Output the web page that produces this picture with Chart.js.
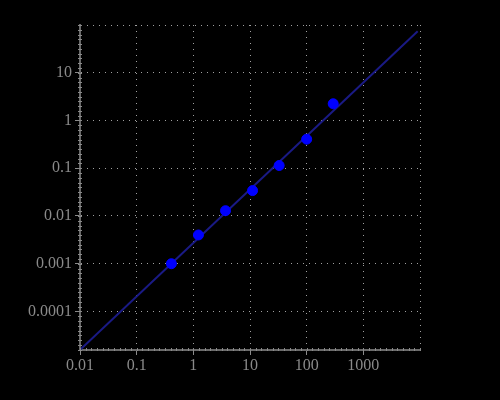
<!DOCTYPE html>
<html>
<head>
<meta charset="utf-8">
<script src="https://cdn.jsdelivr.net/npm/chart.js@4/dist/chart.umd.min.js"></script>
<style>
html,body{margin:0;padding:0;background:#000;}
#wrap{width:500px;height:400px;}
</style>
</head>
<body>
<div id="wrap"><canvas id="c" width="500" height="400"></canvas></div>
<script>
// Data
const concentrations = [0.41, 1.23, 3.7, 11.1, 32.7, 100, 294];
const responses = [0.001, 0.0040, 0.0129, 0.034, 0.114, 0.406, 2.24];
// Fitted line endpoints
const fitX = [0.01, 9100];
const fitY = [0.0000157, 74];
// Axis ranges and labelled ticks
const xRange = [0.01, 10000];
const yRange = [0.0000156, 100];
const xTickLabels = [0.01, 0.1, 1, 10, 100, 1000];
const yTickLabels = [0.0001, 0.001, 0.01, 0.1, 1, 10];

const gridColor = '#a0a0a0';
const textColor = '#8a8a8a';

const bgPlugin = {
  id: 'bg',
  beforeDraw(chart) {
    const ctx = chart.ctx;
    ctx.save();
    ctx.fillStyle = '#000';
    ctx.fillRect(0, 0, chart.width, chart.height);
    ctx.restore();
  }
};

// Small evenly spaced ruler marks along the axes (every 1/10 decade)
const rulerPlugin = {
  id: 'ruler',
  afterDraw(chart) {
    const ctx = chart.ctx;
    const a = chart.chartArea;
    const xs = chart.scales.x, ys = chart.scales.y;
    ctx.save();
    ctx.strokeStyle = '#8a8a8a';
    ctx.lineWidth = 1;
    ctx.beginPath();
    const lx0 = Math.log10(xs.min), lx1 = Math.log10(xs.max);
    for (let k = Math.ceil(lx0 * 10); k <= Math.floor(lx1 * 10); k++) {
      const px = Math.round(xs.getPixelForValue(Math.pow(10, k / 10))) + 0.5;
      ctx.moveTo(px, a.bottom - 2);
      ctx.lineTo(px, a.bottom + 1);
    }
    const ly0 = Math.log10(ys.min), ly1 = Math.log10(ys.max);
    for (let k = Math.ceil(ly0 * 10); k <= Math.floor(ly1 * 10); k++) {
      const py = Math.round(ys.getPixelForValue(Math.pow(10, k / 10))) + 0.5;
      ctx.moveTo(a.left - 2, py);
      ctx.lineTo(a.left + 2, py);
    }
    ctx.stroke();
    ctx.restore();
  }
};

function tickColorFor(labels) {
  return (c) => (c.tick && labels.includes(c.tick.value)) ? '#8a8a8a' : 'rgba(0,0,0,0)';
}

new Chart(document.getElementById('c'), {
  type: 'scatter',
  data: {
    datasets: [
      {
        type: 'line',
        label: 'fit',
        data: fitX.map((x, i) => ({ x: x, y: fitY[i] })),
        borderColor: '#1a1a85',
        borderWidth: 2,
        pointRadius: 0,
        fill: false,
        tension: 0,
        order: 2
      },
      {
        label: 'points',
        data: concentrations.map((x, i) => ({ x: x, y: responses[i] })),
        backgroundColor: '#0000ff',
        borderColor: '#0000ff',
        pointRadius: 5,
        pointHoverRadius: 5,
        order: 1
      }
    ]
  },
  options: {
    responsive: false,
    animation: false,
    events: [],
    layout: { padding: { left: 0, top: 25, right: 80, bottom: 0 } },
    plugins: { legend: { display: false }, tooltip: { enabled: false }, title: { display: false } },
    scales: {
      x: {
        type: 'logarithmic',
        min: xRange[0],
        max: xRange[1],
        afterBuildTicks(s) {
          s.ticks = xTickLabels.concat([xRange[1]]).map(v => ({ value: v }));
        },
        afterFit(s) { s.height = 50; },
        border: { display: true, color: '#6a6a6a', width: 2, dash: [1, 5] },
        grid: {
          color: gridColor,
          lineWidth: 1,
          drawTicks: true,
          tickLength: 5,
          tickColor: tickColorFor(xTickLabels),
          tickBorderDash: [],
          tickWidth: 1
        },
        ticks: {
          autoSkip: false,
          maxRotation: 0,
          padding: 1,
          color: textColor,
          font: { family: '"Liberation Serif", "DejaVu Serif", serif', size: 16 },
          callback(v) { return xTickLabels.includes(v) ? String(v) : ''; }
        }
      },
      y: {
        type: 'logarithmic',
        min: yRange[0],
        max: yRange[1],
        afterBuildTicks(s) {
          s.ticks = yTickLabels.concat([yRange[1]]).map(v => ({ value: v }));
        },
        afterFit(s) { s.width = 80; },
        border: { display: true, color: '#6a6a6a', width: 2, dash: [1, 5] },
        grid: {
          color: gridColor,
          lineWidth: 1,
          drawTicks: true,
          tickLength: 5,
          tickColor: tickColorFor(yTickLabels),
          tickBorderDash: [],
          tickWidth: 1
        },
        ticks: {
          autoSkip: false,
          padding: 3,
          color: textColor,
          font: { family: '"Liberation Serif", "DejaVu Serif", serif', size: 16 },
          callback(v) { return yTickLabels.includes(v) ? String(v) : ''; }
        }
      }
    }
  },
  plugins: [bgPlugin, rulerPlugin]
});
</script>
</body>
</html>
